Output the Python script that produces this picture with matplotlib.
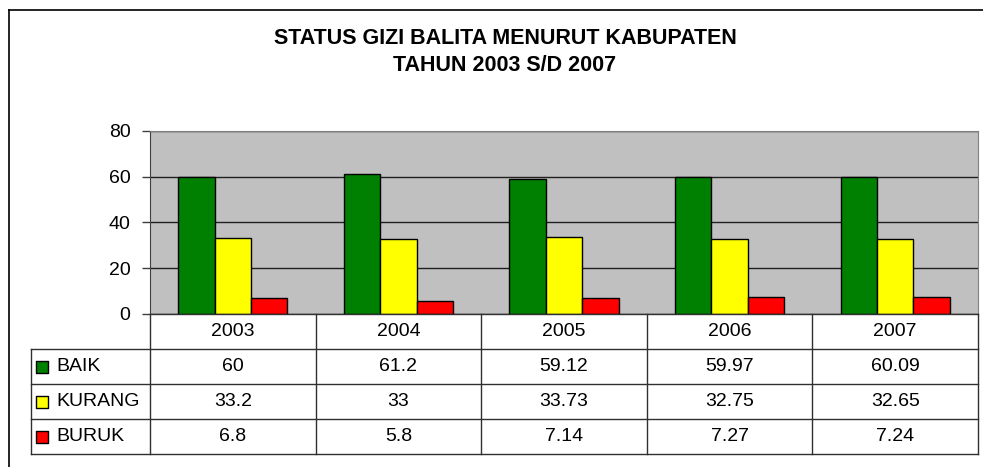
import numpy as np
import matplotlib
matplotlib.use("Agg")
import matplotlib.pyplot as plt

plt.rcParams["font.family"] = ["Liberation Sans", "DejaVu Sans"]

tahun = ["2003", "2004", "2005", "2006", "2007"]
status = ["BAIK", "KURANG", "BURUK"]
baik = [60, 61.2, 59.12, 59.97, 60.09]
kurang = [33.2, 33, 33.73, 32.75, 32.65]
buruk = [6.8, 5.8, 7.14, 7.27, 7.24]
label_nilai = [["60", "61.2", "59.12", "59.97", "60.09"],
               ["33.2", "33", "33.73", "32.75", "32.65"],
               ["6.8", "5.8", "7.14", "7.27", "7.24"]]
warna = ["#008000", "#FFFF00", "#FF0000"]

W, H = 983, 467
fig = plt.figure(figsize=(W / 100, H / 100), dpi=100)

# bingkai luar (hanya kiri dan atas yang terlihat)
fig.add_artist(plt.Line2D([9 / W, 9 / W], [0, 1 - 10 / H], color="black", lw=1.2))
fig.add_artist(plt.Line2D([9 / W, 1], [1 - 10 / H, 1 - 10 / H], color="black", lw=1.2))

fig.text(505 / W, 1 - 52 / H, "STATUS GIZI BALITA MENURUT KABUPATEN\nTAHUN 2003 S/D 2007",
         ha="center", va="center", fontsize=15.5, fontweight="bold", linespacing=1.42)

x0, x1 = 150, 978
ax = fig.add_axes([x0 / W, 1 - 314 / H, (x1 - x0) / W, 183 / H])
ax.set_facecolor("#C0C0C0")
x = np.arange(len(tahun))
lebar = 0.22
for i, (nilai, c) in enumerate(zip([baik, kurang, buruk], warna)):
    ax.bar(x + (i - 1) * lebar, nilai, lebar, color=c, edgecolor="black", linewidth=1, zorder=3)
ax.set_xlim(-0.5, 4.5)
ax.set_ylim(0, 80)
ax.set_yticks([0, 20, 40, 60, 80])
ax.set_xticks([])
ax.yaxis.grid(True, color="#202020", lw=1, zorder=1)
ax.tick_params(axis="y", labelsize=14, length=6, width=1, color="#404040", pad=8)
for s in ["top", "right"]:
    ax.spines[s].set_color("#808080")
ax.spines["left"].set_color("#404040")
ax.spines["bottom"].set_visible(False)

# tabel data di bawah grafik
tab = fig.add_axes([x0 / W, 1 - 454 / H, (x1 - x0) / W, 140 / H])
tab.set_xlim(-0.5, 4.5)
tab.set_ylim(0, 4)
tab.axis("off")
kiri = -0.5 - (x0 - 31) / ((x1 - x0) / 5)
lc = "#303030"
for yy in [0, 1, 2, 3]:
    tab.plot([kiri, 4.5], [yy, yy], color=lc, lw=1, clip_on=False)
tab.plot([-0.5, 4.5], [4, 4], color=lc, lw=1, clip_on=False)
tab.plot([kiri, kiri], [0, 3], color=lc, lw=1, clip_on=False)
for xx in np.arange(-0.5, 5, 1):
    tab.plot([xx, xx], [0, 4], color=lc, lw=1, clip_on=False)

for j, t in enumerate(tahun):
    tab.text(j, 3.5, t, ha="center", va="center", fontsize=14)
for r, (nama, c) in enumerate(zip(status, warna)):
    yy = 2.5 - r
    tab.scatter([kiri + 0.066], [yy], marker="s", s=80, color=c, edgecolor="black",
                linewidth=1, clip_on=False)
    tab.text(kiri + 0.151, yy, nama, ha="left", va="center", fontsize=14)
    for j in range(len(tahun)):
        tab.text(j, yy, label_nilai[r][j], ha="center", va="center", fontsize=14)

fig.savefig("out.png", dpi=100)
